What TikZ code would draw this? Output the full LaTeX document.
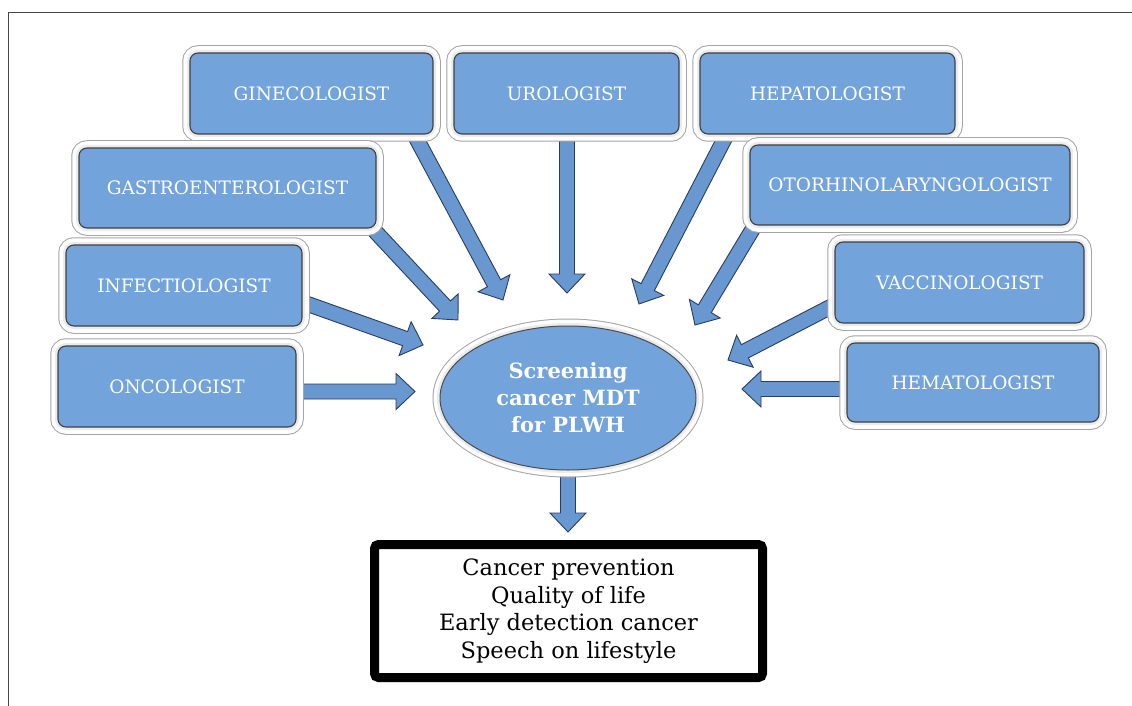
\documentclass[tikz,border=0pt]{standalone}
\usepackage{fontspec}
\setmainfont{DejaVu Serif}
\usetikzlibrary{shapes.geometric,calc,backgrounds}
\definecolor{boxblue}{RGB}{114,163,219}
\definecolor{arrblue}{RGB}{104,152,207}
\definecolor{arredge}{RGB}{40,60,100}
\definecolor{rimgray}{RGB}{165,165,165}
\definecolor{bandgray}{RGB}{235,235,235}
\definecolor{framegray}{RGB}{70,70,70}
\newcommand\blockarrow[2]{%
  \coordinate (hb) at ($(#2)!19pt!(#1)$);
  \filldraw[barrow] ($(#1)!7.5pt!90:(#2)$) -- ($(hb)!7.5pt!90:(#2)$) -- ($(hb)!18pt!90:(#2)$) -- (#2)
    -- ($(hb)!18pt!-90:(#2)$) -- ($(hb)!7.5pt!-90:(#2)$) -- ($(#1)!7.5pt!-90:(#2)$) -- cycle;}
\tikzset{
  spec/.style={rectangle, rounded corners=8pt, fill=boxblue, draw=black!75, line width=1.1pt,
    inner sep=0pt, text=white, font=\fontsize{18.5}{22}\selectfont,
    preaction={draw=rimgray, line width=15.5pt},
    preaction={draw=white, line width=13.5pt},
    preaction={draw=bandgray, line width=6pt}},
  hubstyle/.style={ellipse, fill=boxblue, draw=black!70, line width=1pt, inner sep=0pt,
    minimum width=256pt, minimum height=144pt, text=white, align=center,
    font=\fontsize{21}{27}\selectfont\bfseries,
    preaction={draw=rimgray, line width=15pt},
    preaction={draw=white, line width=13pt},
    preaction={draw=bandgray, line width=6pt}},
  outbox/.style={rectangle, draw=black, line width=9pt, rounded corners=4pt, fill=white,
    minimum width=388pt, minimum height=133pt, align=center, inner sep=0pt,
    font=\fontsize{22.5}{27.7}\selectfont},
  barrow/.style={fill=arrblue, draw=arredge, line width=0.9pt, line join=miter},
  frameline/.style={draw=framegray, line width=1pt}
}
\begin{document}
\begin{tikzpicture}[x=1pt,y=-1pt]
\useasboundingbox (0,0) rectangle (1132,706);
\draw[frameline] (8,706) -- (8,13) -- (1132,13);

% specialist boxes
\node[spec, minimum width=243pt, minimum height=81pt] (gin) at (311.5,93.5) {GINECOLOGIST};
\node[spec, minimum width=225pt, minimum height=81pt] (uro) at (566.5,93.5) {UROLOGIST};
\node[spec, minimum width=255pt, minimum height=81pt] (hep) at (827.5,93.5) {HEPATOLOGIST};
\node[spec, minimum width=297pt, minimum height=80pt] (gas) at (227.5,188) {GASTROENTEROLOGIST};
\node[spec, minimum width=320pt, minimum height=80pt] (oto) at (910,185) {OTORHINOLARYNGOLOGIST};
\node[spec, minimum width=236pt, minimum height=81pt] (inf) at (184,285.5) {INFECTIOLOGIST};
\node[spec, minimum width=249pt, minimum height=81pt] (vac) at (959.5,282.5) {VACCINOLOGIST};
\node[spec, minimum width=238pt, minimum height=81pt] (onc) at (177,386.5) {ONCOLOGIST};
\node[spec, minimum width=252pt, minimum height=79pt] (hem) at (973,382.5) {HEMATOLOGIST};

% central ellipse
\node[hubstyle] (hub) at (568,398) {Screening\\cancer MDT\\for PLWH};

% outcome box
\node[outbox] (out) at (568.5,611) {Cancer prevention\\Quality of life\\Early detection cancer\\Speech on lifestyle};

% arrow end points
\coordinate (s-gin) at (414,134);  \coordinate (t-gin) at (503,300);
\coordinate (s-uro) at (567,134);  \coordinate (t-uro) at (567,293);
\coordinate (s-hep) at (727,134);  \coordinate (t-hep) at (639,304);
\coordinate (s-gas) at (372,228);  \coordinate (t-gas) at (458,320);
\coordinate (s-oto) at (757,222);  \coordinate (t-oto) at (695,325);
\coordinate (s-inf) at (302,302);  \coordinate (t-inf) at (423,345);
\coordinate (s-vac) at (838,303);  \coordinate (t-vac) at (728,360);
\coordinate (s-onc) at (296,391.5); \coordinate (t-onc) at (415,391.5);
\coordinate (s-hem) at (847,389);  \coordinate (t-hem) at (742,389);
\coordinate (t-out) at (568,532);

\begin{pgfonlayer}{background}
\blockarrow{s-gin}{t-gin}
\blockarrow{s-uro}{t-uro}
\blockarrow{s-hep}{t-hep}
\blockarrow{s-gas}{t-gas}
\blockarrow{s-oto}{t-oto}
\blockarrow{s-inf}{t-inf}
\blockarrow{s-vac}{t-vac}
\blockarrow{s-onc}{t-onc}
\blockarrow{s-hem}{t-hem}
\blockarrow{hub.south}{t-out}
\end{pgfonlayer}
\end{tikzpicture}
\end{document}
